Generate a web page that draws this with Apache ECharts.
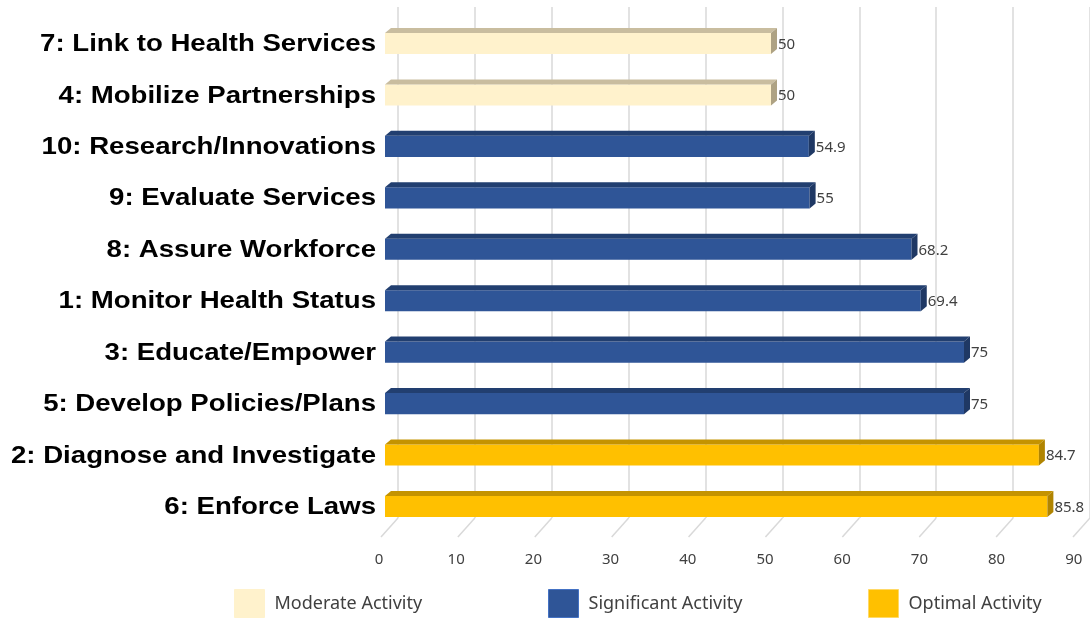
<!DOCTYPE html>
<html>
<head>
<meta charset="utf-8">
<script src="https://cdn.jsdelivr.net/npm/echarts@6/dist/echarts.min.js"></script>
<style>html,body{margin:0;padding:0;background:#fff}#c{width:1090px;height:618px}</style>
</head>
<body>
<div id="c"></div>
<script>
const categories = ['7: Link to Health Services','4: Mobilize Partnerships','10: Research/Innovations','9: Evaluate Services','8: Assure Workforce','1: Monitor Health Status','3: Educate/Empower','5: Develop Policies/Plans','2: Diagnose and Investigate','6: Enforce Laws'];
const values = [50, 50, 54.9, 55, 68.2, 69.4, 75, 75, 84.7, 85.8];
const levels = ['Moderate Activity','Moderate Activity','Significant Activity','Significant Activity','Significant Activity','Significant Activity','Significant Activity','Significant Activity','Optimal Activity','Optimal Activity'];
const seriesNames = ['Moderate Activity','Significant Activity','Optimal Activity'];
const tickValues = [0, 10, 20, 30, 40, 50, 60, 70, 80, 90];

const palette = {
  'Moderate Activity':   {front:'#FFF2CC', top:'#C9BD9F', side:'#AEA283'},
  'Significant Activity':{front:'#2F5597', top:'#223F70', side:'#1F3864'},
  'Optimal Activity':    {front:'#FFC000', top:'#C49300', side:'#B08400'}
};

function makeRender(name){
  const pal = palette[name];
  return function(params, api){
    const v = api.value(0), ci = api.value(1);
    const p0 = api.coord([0, ci]);
    const p1 = api.coord([v, ci]);
    const band = api.size([0, 1])[1];
    const h = band * 0.41;
    const x0 = p0[0], x1 = p1[0];
    const yT = p0[1] - h / 2, yB = p0[1] + h / 2;
    const dx = 6, dy = 5;
    return {type:'group', children:[
      {type:'rect', shape:{x:x0, y:yT, width:x1 - x0, height:h}, style:{fill:pal.front}},
      {type:'polygon', shape:{points:[[x0,yT],[x0+dx,yT-dy],[x1+dx,yT-dy],[x1,yT]]}, style:{fill:pal.top}},
      {type:'polygon', shape:{points:[[x1,yT],[x1+dx,yT-dy],[x1+dx,yB-dy],[x1,yB]]}, style:{fill:pal.side}},
      {type:'text', style:{x:x1 + dx + 1, y:p0[1] + 1, text:String(v), fill:'#404040', font:'15px "Noto Sans"', verticalAlign:'middle', align:'left'}},
      {type:'text', x:x0 - 9, y:p0[1] + 1, scaleX:1.15, scaleY:1,
       style:{x:0, y:0, text:categories[ci], fill:'#000', font:'bold 24px "Liberation Sans"', verticalAlign:'middle', align:'right'}}
    ]};
  };
}

const barSeries = seriesNames.map(name => ({
  name: name,
  type: 'custom',
  xAxisIndex: 0, yAxisIndex: 0,
  itemStyle: {color: palette[name].front},
  renderItem: makeRender(name),
  encode: {x: 0, y: 1},
  clip: false,
  data: values.map((v, i) => levels[i] === name ? [v, i] : null).filter(d => d),
  z: 5
}));

const floorSeries = {
  type: 'custom',
  xAxisIndex: 1, yAxisIndex: 1,
  silent: true,
  renderItem: function(params, api){
    const p = api.coord([api.value(0), 0]);
    return {type:'line', shape:{x1:p[0], y1:p[1], x2:p[0] - 17, y2:p[1] + 19}, style:{stroke:'#D9D9D9', lineWidth:1.5}};
  },
  encode: {x: 0},
  data: tickValues.map(t => [t]),
  z: 1
};

const legends = seriesNames.map((name, i) => ({
  data: [{name: name, itemStyle: {color: palette[name].front, borderColor: i === 1 ? '#4472C4' : (i === 0 ? '#FFF2CC' : '#FFD966'), borderWidth: 1}}],
  left: [234, 548, 868][i],
  top: 589,
  padding: 0,
  icon: 'rect',
  itemWidth: 30, itemHeight: 28,
  selectedMode: false,
  textStyle: {fontSize: 18, color: '#404040', fontFamily: 'Noto Sans', padding: [0, 0, 0, 5]}
}));

const chart = echarts.init(document.getElementById('c'), null, {renderer: 'canvas'});
chart.setOption({
  animation: false,
  backgroundColor: '#fff',
  legend: legends,
  grid: [
    {left: 385, width: 694.8, top: 17.8, height: 514.4},
    {left: 398, width: 693, top: 7, bottom: 100}
  ],
  xAxis: [
    {gridIndex: 0, type: 'value', min: 0, max: 90, interval: 10,
     axisLine: {show: false}, axisTick: {show: false}, splitLine: {show: false},
     axisLabel: {margin: 20, fontSize: 15, color: '#404040', fontFamily: 'Noto Sans', padding: [0, 12, 0, 0]}},
    {gridIndex: 1, type: 'value', min: 0, max: 90, interval: 10,
     axisLine: {show: false}, axisTick: {show: false}, axisLabel: {show: false},
     splitLine: {show: true, lineStyle: {color: '#D9D9D9', width: 1.5}}}
  ],
  yAxis: [
    {gridIndex: 0, type: 'category', data: categories, inverse: true,
     axisLine: {show: false}, axisTick: {show: false}, splitLine: {show: false},
     axisLabel: {show: false}},
    {gridIndex: 1, type: 'value', min: 0, max: 1, show: false}
  ],
  series: [floorSeries].concat(barSeries)
});
</script>
</body>
</html>
